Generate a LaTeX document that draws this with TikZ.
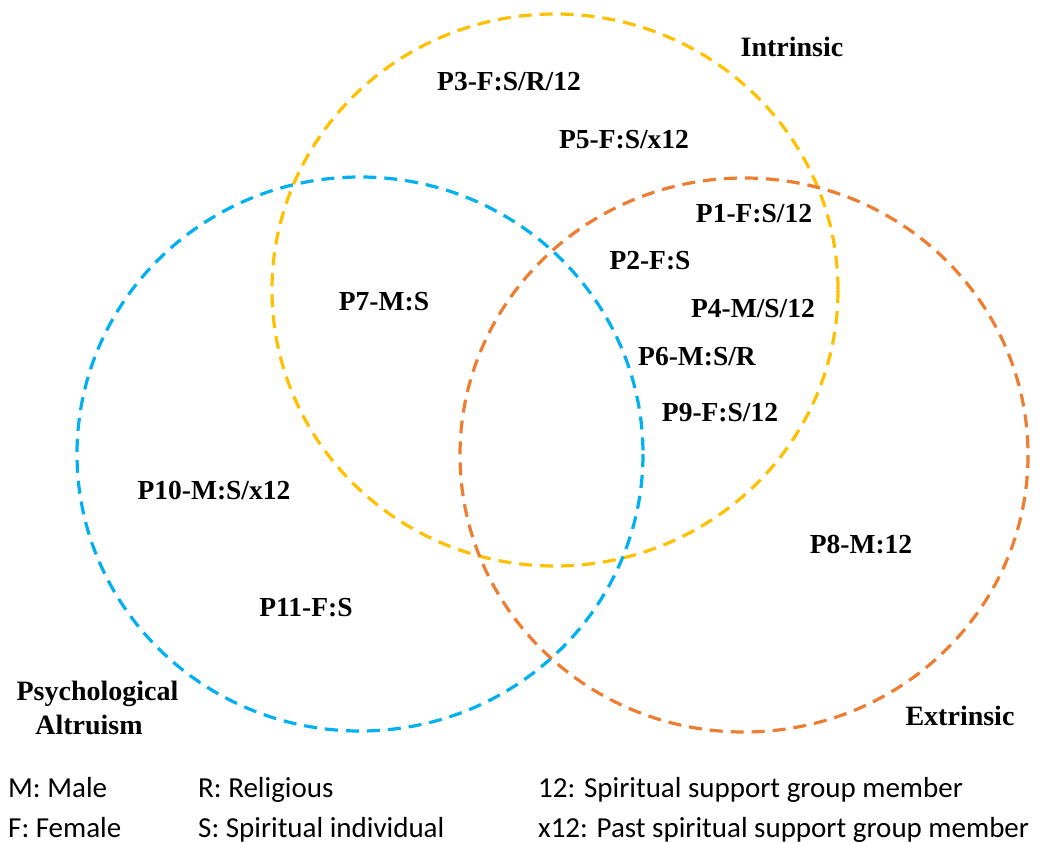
\documentclass[tikz,border=0pt]{standalone}
\usepackage{fontspec}
\setmainfont{Liberation Serif}
\newfontfamily\legendfont{Carlito}
\definecolor{setyellow}{HTML}{FFC000}
\definecolor{setblue}{HTML}{00B0F0}
\definecolor{setorange}{HTML}{ED7D31}
\begin{document}
\begin{tikzpicture}[x=1pt,y=-1pt,
  setline/.style={line width=3.2pt,dash pattern=on 13pt off 8pt},
  member/.style={inner sep=0pt,font=\bfseries\fontsize{27.5}{31}\selectfont},
  setname/.style={inner sep=0pt,font=\bfseries\fontsize{28}{31}\selectfont},
  legend/.style={inner sep=0pt,anchor=base west,font=\legendfont\fontsize{29}{33}\selectfont}]
\useasboundingbox (0,0) rectangle (1047,843);

% the three sets
\draw[setline,setyellow] (555,290) ellipse [x radius=283,y radius=276];
\draw[setline,setblue]   (360,454) ellipse [x radius=283,y radius=277];
\draw[setline,setorange] (744,455) ellipse [x radius=284,y radius=277];

% set names
\node[setname] (intrinsic) at (792,47) {Intrinsic};
\node[setname] (extrinsic) at (960,716) {Extrinsic};
\node[setname] (psych) at (97.5,694) {Psychological};
\node[setname] (altru) at (89,725) {Altruism};

% participants
\node[member] (p3)  at (509,82)  {P3-F:S/R/12};
\node[member] (p5)  at (624,140) {P5-F:S/x12};
\node[member] (p1)  at (754,214) {P1-F:S/12};
\node[member] (p2)  at (650,261) {P2-F:S};
\node[member] (p7)  at (384,302) {P7-M:S};
\node[member] (p4)  at (753,309) {P4-M/S/12};
\node[member] (p6)  at (697,357) {P6-M:S/R};
\node[member] (p9)  at (720,413) {P9-F:S/12};
\node[member] (p10) at (214,491) {P10-M:S/x12};
\node[member] (p8)  at (861,545) {P8-M:12};
\node[member] (p11) at (306,608) {P11-F:S};

% legend, placed by baseline
\node[legend] (lm)   at (8,797)   {M: Male};
\node[legend] (lf)   at (8,837)   {F: Female};
\node[legend] (lr)   at (198,797) {R: Religious};
\node[legend] (ls)   at (198,837) {S: Spiritual individual};
\node[legend] (l12)  at (538,797) {12: Spiritual support group member};
\node[legend] (lx12) at (538,837) {x12: Past spiritual support group member};
\end{tikzpicture}
\end{document}
